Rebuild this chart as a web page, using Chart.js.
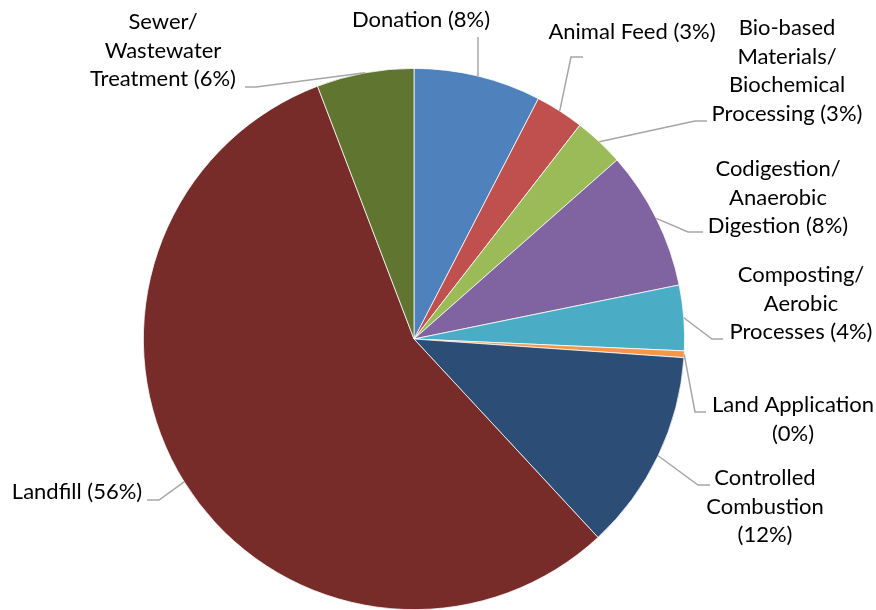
<!DOCTYPE html>
<html>
<head>
<meta charset="utf-8">
<script src="https://cdn.jsdelivr.net/npm/chart.js@4.4.0/dist/chart.umd.min.js"></script>
<style>
  html, body { margin: 0; padding: 0; background: #fff; }
  #wrap { width: 876px; height: 610px; position: relative; }
</style>
</head>
<body>
<div id="wrap"><canvas id="myChart"></canvas></div>
<script>
// Dữ liệu
var categories = [
    'Donation',
    'Animal Feed',
    'Bio-based Materials/Biochemical Processing',
    'Codigestion/Anaerobic Digestion',
    'Composting/Aerobic Processes',
    'Land Application',
    'Controlled Combustion',
    'Landfill',
    'Sewer/Wastewater Treatment'
];
var shares = [7.6, 2.9, 3.0, 8.3, 3.9, 0.4, 12.0, 56.1, 5.8];
var colors = ['#4F81BD', '#C0504D', '#9BBB59', '#8064A2', '#4BACC6',
              '#F79646', '#2C4D75', '#772C2A', '#5F7530'];

// Bố cục nhãn: dòng chữ ({p} = phần trăm), tâm chữ, điểm gãy và điểm cuối của đường dẫn
var labelLayout = [
    { lines: ['Donation ({p})'], x: 421, y: 20, elbow: [478, 37], end: [478, 37] },
    { lines: ['Animal Feed ({p})'], x: 632, y: 32, elbow: [571, 57], end: [583, 57] },
    { lines: ['Bio-based', 'Materials/', 'Biochemical', 'Processing ({p})'], x: 787, y: 28, elbow: [695, 121], end: [707, 121] },
    { lines: ['Codigestion/', 'Anaerobic', 'Digestion ({p})'], x: 778, y: 169, elbow: [688, 232], end: [703, 232] },
    { lines: ['Composting/', 'Aerobic', 'Processes ({p})'], x: 801, y: 275, elbow: [712, 339], end: [723, 339] },
    { lines: ['Land Application', '({p})'], x: 793, y: 405, elbow: [695, 412], end: [706, 412] },
    { lines: ['Controlled', 'Combustion', '({p})'], x: 765, y: 478, elbow: [698, 485], end: [710, 485] },
    { lines: ['Landfill ({p})'], x: 77, y: 492, elbow: [159, 500], end: [147, 500] },
    { lines: ['Sewer/', 'Wastewater', 'Treatment ({p})'], x: 163, y: 22, elbow: [256, 87], end: [245, 87] }
];

var labelFont = '22px Lato, "Open Sans", sans-serif';
var lineHeight = 28.5;

// Plugin vẽ nhãn bên ngoài và đường dẫn
var outsideLabels = {
    id: 'outsideLabels',
    afterDatasetsDraw: function (chart) {
        var ctx = chart.ctx;
        var meta = chart.getDatasetMeta(0);
        var values = chart.data.datasets[0].data;
        var total = values.reduce(function (a, b) { return a + b; }, 0);
        ctx.save();
        meta.data.forEach(function (arc, i) {
            var p = arc.getProps(['x', 'y', 'startAngle', 'endAngle', 'outerRadius'], true);
            var mid = (p.startAngle + p.endAngle) / 2;
            var sx = p.x + Math.cos(mid) * p.outerRadius;
            var sy = p.y + Math.sin(mid) * p.outerRadius;
            var lay = labelLayout[i];

            ctx.strokeStyle = '#A6A6A6';
            ctx.lineWidth = 1.5;
            ctx.beginPath();
            ctx.moveTo(sx, sy);
            ctx.lineTo(lay.elbow[0], lay.elbow[1]);
            ctx.lineTo(lay.end[0], lay.end[1]);
            ctx.stroke();

            var pct = Math.round(values[i] / total * 100) + '%';
            ctx.fillStyle = '#000';
            ctx.font = labelFont;
            ctx.textAlign = 'center';
            ctx.textBaseline = 'middle';
            lay.lines.forEach(function (line, k) {
                ctx.fillText(line.replace('{p}', pct), lay.x, lay.y + k * lineHeight);
            });
        });
        ctx.restore();
    }
};

var ctx = document.getElementById('myChart').getContext('2d');
var myChart = new Chart(ctx, {
    type: 'pie',
    data: {
        labels: categories,
        datasets: [{
            data: shares,
            backgroundColor: colors,
            borderColor: '#ffffff',
            borderWidth: 0.75,
            hoverOffset: 0,
            offset: 0
        }]
    },
    options: {
        responsive: true,
        maintainAspectRatio: false,
        animation: false,
        events: [],
        layout: {
            padding: { top: 68, bottom: 0, left: 0, right: 48 }
        },
        plugins: {
            legend: { display: false },
            tooltip: { enabled: false },
            title: { display: false }
        }
    },
    plugins: [outsideLabels]
});
</script>
</body>
</html>
